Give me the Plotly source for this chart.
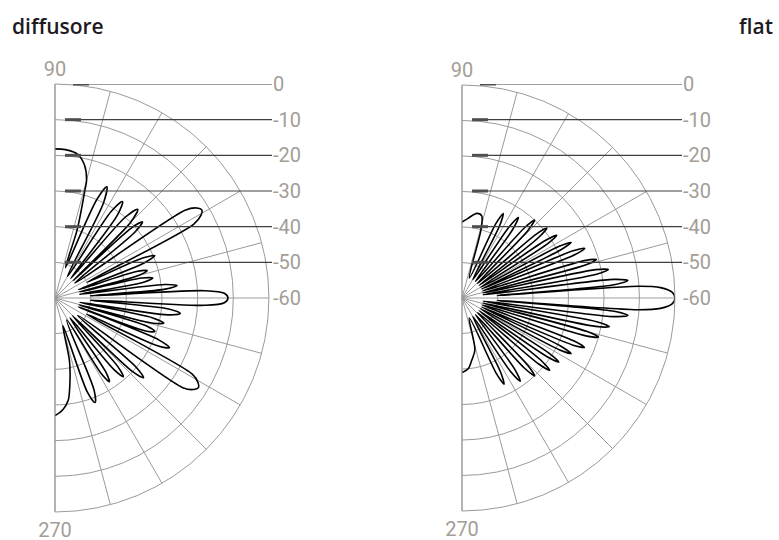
import plotly.graph_objects as go

W, H = 779, 540

# ---- pattern data: angle in degrees (0 = broadside, +90 top, -90 bottom), level in dB ----
diffusore_theta = [
    90, 86, 81, 77.5, 75, 74.5, 72, 71,          # broad lobe at the top edge
    67, 65, 63, 60,
    57, 55, 53, 51,
    49, 47, 45, 43.5,
    42.5, 41, 39.5, 37,
    34, 32.5, 31, 29.5, 28, 26,                  # strong lobe near 31 deg
    24.5, 23, 21.5, 19.5,
    18, 16.5, 15, 14,
    13, 11.5, 10, 8.5,
    7, 5.8, 4.6, 3.5,
    2.8, 1.6, 0, -1.6, -2.8, -3.5,              # main lobe
    -5.5, -7, -8.5, -10,
    -11.5, -13, -14.5, -16,
    -17, -18.5, -20, -21,
    -22, -23.5, -25, -27,
    -29, -30.5, -32, -33.5, -35, -37.5,         # strong lobe near -32 deg
    -40.5, -42, -43.5, -45.5,
    -47.5, -49, -50.5, -53,
    -55.5, -57, -58.5, -62,
    -67, -69, -71, -74,
    -77, -79.6, -82.7, -86, -90,                # broad lobe at the bottom edge
]
diffusore_db = [
    -18.2, -18.3, -19.2, -21.8, -25.8, -28.6, -40, -51,
    -30, -25.6, -30, -53,
    -31, -27, -31, -53,
    -30, -26, -30, -53,
    -31, -27.5, -31, -53,
    -16, -13, -12, -13, -16, -50,
    -33, -29.6, -33, -53,
    -36, -33, -36, -53,
    -35, -32, -35, -53,
    -29, -25.6, -29, -50,
    -18, -12.5, -11.5, -12.5, -18, -50,
    -28, -24.6, -28, -53,
    -32, -28.7, -32, -53,
    -33, -30.5, -33, -53,
    -28.5, -25, -28.5, -50,
    -16, -13.5, -12.6, -13.5, -16, -52,
    -30, -26.6, -30, -53,
    -34, -30.8, -34, -53,
    -35, -32, -35, -53,
    -32, -28.6, -32, -52,
    -42, -36.7, -31, -28.6, -27,
]

flat_theta = [
    90, 85.7, 80, 76.5, 74.5, 70,                # broad lobe at the top edge
    65.5, 64, 62.5, 59.5,
    56.5, 55, 53.5, 51,
    48.3, 47, 45.7, 43,
    40.7, 39.5, 38.3, 36.5,
    34.6, 33.5, 32.4, 30,
    28, 27, 26, 24.5,
    23, 22, 21, 19,
    17, 16, 15, 13.5,
    12, 11, 10, 8.5,
    7, 6, 5, 4,
    3.8, 3, 1.6, 0, -1.6, -3, -3.8, -4,         # main lobe
    -5, -6, -7, -8.5,
    -10, -11, -12, -13.5,
    -15, -16, -17, -19,
    -21, -22, -23, -24.5,
    -26, -27, -28, -30,
    -32.4, -33.5, -34.6, -36.5,
    -38.3, -39.5, -40.7, -43,
    -45.7, -47, -48.3, -51,
    -53.5, -55, -56.5, -59.5,
    -62.5, -64, -65.5, -70,
    -76, -81, -85, -90,                          # broad lobe at the bottom edge
]
flat_db = [
    -38.6, -37.5, -35.8, -36.2, -40, -54,
    -37, -33.5, -37, -54,
    -36, -32.3, -36, -54,
    -33.5, -30, -33.5, -54,
    -32.5, -29, -32.5, -54,
    -31.5, -28, -31.5, -54,
    -29, -25.5, -29, -54,
    -26, -22.7, -26, -54,
    -24, -20.6, -24, -54,
    -21.5, -18, -21.5, -54,
    -17, -13, -17, -50,
    -10, -4, -0.8, 0, -0.8, -4, -10, -50,
    -17, -13, -17, -54,
    -21.5, -17.7, -21.5, -54,
    -23.5, -20, -23.5, -54,
    -26, -22.8, -26, -54,
    -29, -25.5, -29, -54,
    -31, -27.3, -31, -54,
    -31.5, -28, -31.5, -54,
    -33.5, -30, -33.5, -54,
    -35, -31.4, -35, -54,
    -36.5, -33, -36.5, -54,
    -45, -42.3, -40, -39,
]

# radial scale (rings every 10 dB, -60 dB at the centre)
ring_levels = [0, -10, -20, -30, -40, -50, -60]
ring_labels = ["0", "-10", "-20", "-30", "-40", "-50", "-60"]

# angular grid every 15 deg, only the two ends carry a label
angle_ticks = list(range(-90, 91, 15))
angle_ticktext = ["270"] + [""] * 11 + ["90"]

titles = ["diffusore", "flat"]

# ---- layout geometry (pixels) ----
top_px, bottom_px = 84, 512
panels = [
    dict(cx=55, R=214, label_x=272, line_end=272),
    dict(cx=462, R=213, label_x=682, line_end=682),
]

GRID = "#9a9a9a"
LABEL = "#a39d97"
LABEL_FONT = dict(family="Roboto, Open Sans, sans-serif", size=20, color=LABEL)


def px_x(x):
    return x / W


def px_y(y):
    return 1 - y / H


fig = go.Figure()
layout = dict(
    template="none",
    width=W, height=H, margin=dict(l=0, r=0, t=0, b=0, pad=0, autoexpand=False),
    paper_bgcolor="white", plot_bgcolor="white", showlegend=False,
    shapes=[], annotations=[],
)

series = [(diffusore_theta, diffusore_db), (flat_theta, flat_db)]
for i, (p, (th, db)) in enumerate(zip(panels, series)):
    n = "" if i == 0 else str(i + 1)
    polar_key = "polar" + n
    dom_x = [px_x(p["cx"]), px_x(p["cx"] + p["R"])]
    dom_y = [px_y(bottom_px), px_y(top_px)]

    fig.add_trace(go.Scatterpolar(
        theta=th, r=db, mode="lines", subplot=polar_key,
        line=dict(color="black", width=1.6, shape="spline", smoothing=0.9),
        hoverinfo="skip",
    ))

    layout[polar_key] = dict(
        domain=dict(x=dom_x, y=dom_y),
        sector=[-90, 90],
        bgcolor="white",
        angularaxis=dict(
            rotation=0, direction="counterclockwise",
            tickmode="array", tickvals=angle_ticks, ticktext=angle_ticktext,
            ticks="", showline=True, linecolor=GRID, linewidth=1,
            showgrid=True, gridcolor=GRID, gridwidth=1,
            tickfont=LABEL_FONT,
        ),
        radialaxis=dict(
            range=[-60, 0], tickmode="array", tickvals=[-50, -40, -30, -20, -10],
            showticklabels=False, ticks="", showline=False,
            showgrid=True, gridcolor=GRID, gridwidth=1,
        ),
    )

    # cartesian overlay carrying the dB labels at the right of each panel
    xk, yk = "xaxis" + n, "yaxis" + n
    xa, ya = "x" + n, "y" + n
    fig.add_trace(go.Scatter(x=[], y=[], xaxis=xa, yaxis=ya, hoverinfo="skip"))
    layout[xk] = dict(domain=dom_x, range=[0, 60], visible=False,
                      fixedrange=True, automargin=False)
    layout[yk] = dict(
        domain=dom_y, range=[-120, 0], anchor="free", position=px_x(p["label_x"]),
        side="right", tickmode="array", tickvals=ring_levels, ticktext=ring_labels,
        showgrid=False, zeroline=False, showline=False, ticks="",
        tickfont=LABEL_FONT, fixedrange=True, automargin=False,
    )

    # horizontal level guides with a heavier stub at their left end
    for lvl in ring_levels[:-1]:
        start = p["cx"] + (18 if lvl == 0 else 10)
        layout["shapes"].append(dict(
            type="line", xref="paper", yref=ya,
            x0=px_x(start), x1=px_x(p["line_end"]), y0=lvl, y1=lvl,
            line=dict(color="#3f3f3f", width=1.2),
        ))
        layout["shapes"].append(dict(
            type="line", xref="paper", yref=ya,
            x0=px_x(start), x1=px_x(start + 16), y0=lvl, y1=lvl,
            line=dict(color="#4f4f4f", width=3),
        ))

title_font = dict(family="Open Sans, Noto Sans, sans-serif", size=21, color="#1e1a22", weight=600)
layout["annotations"].append(dict(
    text=titles[0], xref="paper", yref="paper", x=px_x(10), y=px_y(26),
    xanchor="left", yanchor="middle", showarrow=False, font=title_font,
))
layout["annotations"].append(dict(
    text=titles[1], xref="paper", yref="paper", x=px_x(775), y=px_y(26),
    xanchor="right", yanchor="middle", showarrow=False, font=title_font,
))

fig.update_layout(**layout)
fig.write_html("out.html")
